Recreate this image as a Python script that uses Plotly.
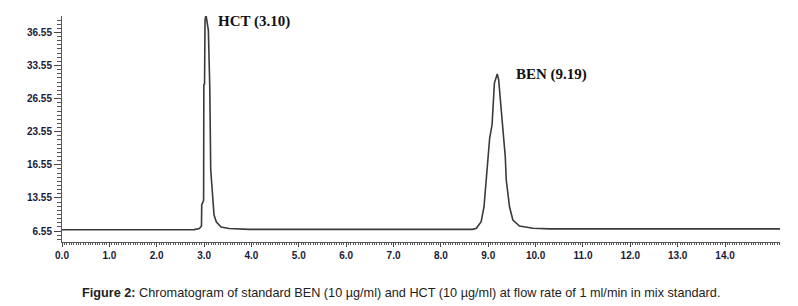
import plotly.graph_objects as go

# Chromatogram trace (time in min, detector signal)
time_min = [0.0, 2.79, 2.90, 2.945, 2.95, 2.99, 2.995, 3.01, 3.02, 3.04, 3.09, 3.12, 3.14, 3.18, 3.21,
            3.26, 3.36, 3.53, 3.95, 5.6, 8.67, 8.75, 8.85, 8.91, 8.96, 9.01, 9.03, 9.08, 9.10, 9.13,
            9.19, 9.22, 9.26, 9.30, 9.33, 9.36, 9.38, 9.45, 9.52, 9.66, 9.94, 10.30, 15.16]
signal = [6.74, 6.76, 6.93, 7.3, 10.5, 11.2, 28.6, 28.8, 38.4, 39.2, 36.9, 28.3, 15.8, 11.2, 8.97,
          7.9, 7.15, 6.93, 6.80, 6.80, 6.80, 6.96, 7.95, 10.18, 14.25, 17.73, 20.6, 22.56, 25.9, 28.9,
          30.27, 29.4, 26.0, 22.56, 20.6, 17.73, 14.25, 10.18, 8.21, 7.30, 6.96, 6.87, 6.87]

peak_names = ["HCT (3.10)", "BEN (9.19)"]
peak_label_x = [3.25, 9.54]
peak_label_y = [38.2, 30.2]

x_tick_vals = [0, 1, 2, 3, 4, 5, 6, 7, 8, 9, 10, 11, 12, 13, 14]
x_tick_text = ["0.0", "1.0", "2.0", "3.0", "4.0", "5.0", "6.0", "7.0", "8.0", "9.0",
               "10.0", "11.0", "12.0", "13.0", "14.0"]
y_tick_vals = [6.55, 11.55, 16.55, 21.55, 26.55, 31.55, 36.55]
y_tick_text = ["6.55", "13.55", "16.55", "23.55", "26.55", "33.55", "36.55"]

caption_bold = "Figure 2:"
caption_rest = " Chromatogram of standard BEN (10 µg/ml) and HCT (10 µg/ml) at flow rate of 1 ml/min in mix standard."

fig = go.Figure()
fig.add_trace(go.Scatter(x=time_min, y=signal, mode="lines",
                         line=dict(color="#3a3a3a", width=1.6), showlegend=False,
                         hoverinfo="skip"))

for name, px, py in zip(peak_names, peak_label_x, peak_label_y):
    fig.add_annotation(x=px, y=py, text="<b>" + name + "</b>", showarrow=False,
                       xanchor="left", yanchor="middle",
                       font=dict(family="Liberation Serif", size=15, color="#111111"))

fig.add_annotation(xref="paper", yref="paper", x=0.472, y=-0.226,
                   text="<b>" + caption_bold + "</b>" + caption_rest,
                   showarrow=False, xanchor="center", yanchor="middle",
                   font=dict(family="Liberation Sans", size=12.7, color="#222222"))

fig.update_layout(
    width=798, height=306,
    margin=dict(l=62, r=18, t=16, b=64),
    paper_bgcolor="white", plot_bgcolor="white",
    xaxis=dict(range=[0, 15.16], tickvals=x_tick_vals, ticktext=x_tick_text,
               showgrid=False, zeroline=False, showline=True, linecolor="#555555", linewidth=1,
               ticks="outside", ticklen=4, tickcolor="#444444",
               minor=dict(dtick=0.05, tick0=0, ticks="outside", ticklen=2, tickcolor="#555555", showgrid=False),
               tickfont=dict(family="Liberation Sans", size=10, color="#1a1a3a", weight="bold")),
    yaxis=dict(range=[4.89, 39.03], tickvals=y_tick_vals, ticktext=y_tick_text,
               showgrid=False, zeroline=False, showline=True, linecolor="#555555", linewidth=1,
               ticks="outside", ticklen=7, tickcolor="#444444",
               minor=dict(dtick=0.625, tick0=6.55, ticks="outside", ticklen=4, tickcolor="#555555", showgrid=False),
               tickfont=dict(family="Liberation Sans", size=10, color="#1a1a3a", weight="bold")),
)

fig.write_html("out.html", config={"displayModeBar": False},
               post_script="document.body.style.margin='0px';document.body.style.overflow='hidden';")
